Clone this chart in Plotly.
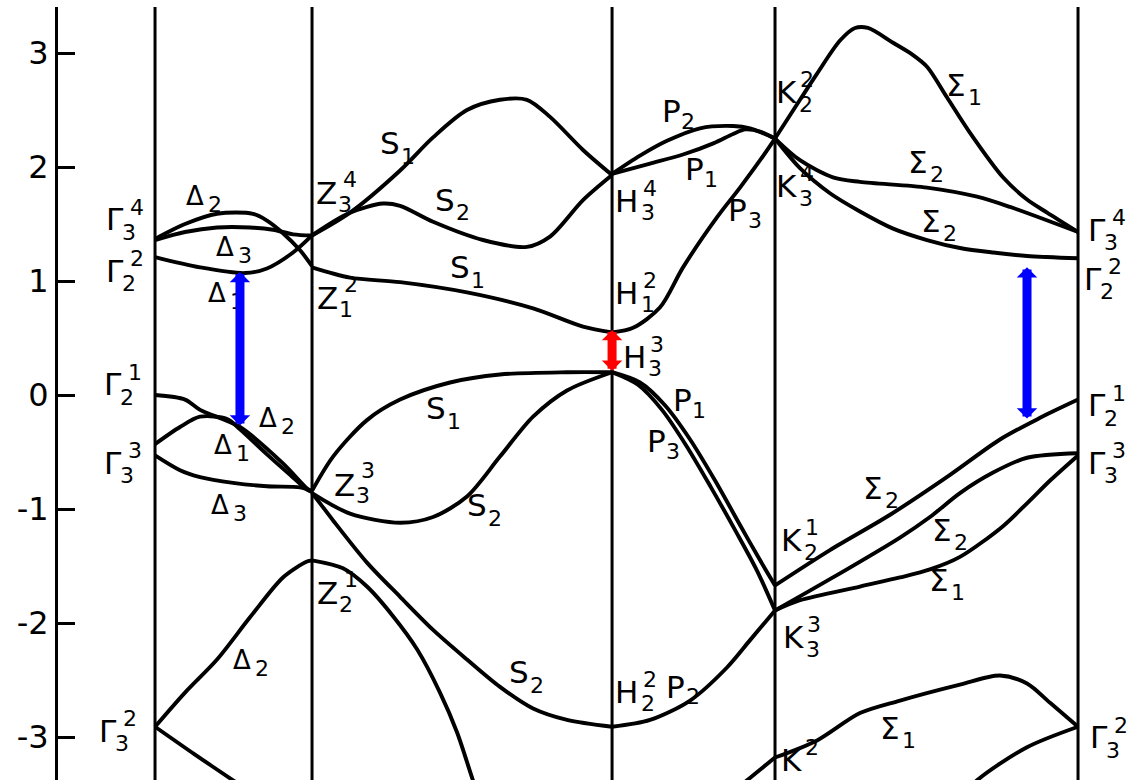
import plotly.graph_objects as go

FONT = "DejaVu Sans"

# High-symmetry points along the k-path (path length, arbitrary units)
NODE_NAMES = ["Γ", "Z", "H", "K", "Γ"]
NODE_K = [0.0, 1.0, 2.911, 3.949, 5.879]

# Energy axis (eV)
TICK_VALS = [-3, -2, -1, 0, 1, 2, 3]
TICK_TEXT = ["-3", "-2", "-1", "0", "1", "2", "3"]

# ---- Γ -> Z  (Δ line) ----
GZ_D2_UP_K = [0.0, 0.191, 0.395, 0.624, 0.713, 0.815, 0.924, 1.0]
GZ_D2_UP_E = [1.37, 1.50, 1.59, 1.59, 1.53, 1.42, 1.27, 1.13]
GZ_D3_UP_K = [0.0, 0.191, 0.395, 0.605, 0.752, 0.879, 1.0]
GZ_D3_UP_E = [1.36, 1.43, 1.47, 1.47, 1.45, 1.41, 1.40]
GZ_D1_UP_K = [0.0, 0.287, 0.573, 0.713, 0.879, 1.0]
GZ_D1_UP_E = [1.21, 1.12, 1.07, 1.11, 1.25, 1.40]
GZ_D2_VB_K = [0.0, 0.191, 0.287, 0.541, 0.815, 0.968, 1.0]
GZ_D2_VB_E = [0.0, -0.04, -0.13, -0.28, -0.60, -0.82, -0.85]
GZ_D1_VB_K = [0.0, 0.159, 0.287, 0.459, 0.541, 0.713, 0.860, 0.968, 1.0]
GZ_D1_VB_E = [-0.43, -0.28, -0.19, -0.21, -0.30, -0.52, -0.70, -0.83, -0.85]
GZ_D3_VB_K = [0.0, 0.159, 0.287, 0.497, 0.713, 0.924, 1.0]
GZ_D3_VB_E = [-0.53, -0.66, -0.72, -0.77, -0.80, -0.81, -0.84]
GZ_D2_LO_K = [0.0, 0.191, 0.395, 0.605, 0.815, 0.968, 1.0]
GZ_D2_LO_E = [-2.91, -2.61, -2.32, -1.95, -1.60, -1.46, -1.45]
GZ_G32_K = [0.0, 0.25, 0.497, 0.67]
GZ_G32_E = [-2.91, -3.15, -3.38, -3.54]

# ---- Z -> H  (S line) ----
ZH_S1_UP_K = [1.0, 1.242, 1.561, 1.771, 1.987, 2.197, 2.369, 2.516, 2.726, 2.911]
ZH_S1_UP_E = [1.40, 1.60, 1.97, 2.26, 2.50, 2.59, 2.59, 2.44, 2.15, 1.93]
ZH_S2_UP_K = [1.0, 1.242, 1.452, 1.561, 1.771, 2.089, 2.369, 2.516, 2.726, 2.911]
ZH_S2_UP_E = [1.40, 1.60, 1.68, 1.66, 1.52, 1.36, 1.30, 1.39, 1.71, 1.93]
ZH_S1_MID_K = [1.0, 1.242, 1.561, 1.987, 2.408, 2.726, 2.911]
ZH_S1_MID_E = [1.12, 1.03, 0.99, 0.90, 0.76, 0.60, 0.55]
ZH_S1_VB_K = [1.0, 1.134, 1.350, 1.561, 1.879, 2.197, 2.624, 2.911]
ZH_S1_VB_E = [-0.84, -0.54, -0.22, -0.04, 0.11, 0.18, 0.20, 0.20]
ZH_S2_VB_K = [1.0, 1.242, 1.561, 1.771, 1.987, 2.197, 2.408, 2.624, 2.911]
ZH_S2_VB_E = [-0.86, -1.04, -1.12, -1.07, -0.89, -0.54, -0.19, 0.04, 0.20]
ZH_Z21_K = [1.0, 1.197, 1.350, 1.516, 1.669, 1.815, 1.924, 2.025, 2.089]
ZH_Z21_E = [-1.45, -1.52, -1.68, -1.94, -2.23, -2.61, -2.96, -3.38, -3.63]
ZH_S2_LO_K = [1.0, 1.051, 1.134, 1.350, 1.561, 1.771, 1.987, 2.197, 2.408, 2.624, 2.911]
ZH_S2_LO_E = [-0.86, -0.95, -1.10, -1.47, -1.77, -2.06, -2.32, -2.56, -2.75, -2.85, -2.91]

# ---- H -> K  (P line) ----
HK_P2_UP_K = [2.911, 3.089, 3.261, 3.471, 3.682, 3.790, 3.949]
HK_P2_UP_E = [1.94, 2.10, 2.23, 2.34, 2.36, 2.34, 2.25]
HK_P1_UP_K = [2.911, 3.153, 3.363, 3.560, 3.682, 3.760, 3.854, 3.949]
HK_P1_UP_E = [1.94, 2.03, 2.11, 2.21, 2.29, 2.33, 2.31, 2.25]
HK_P3_UP_K = [2.911, 3.045, 3.217, 3.363, 3.580, 3.726, 3.854, 3.949]
HK_P3_UP_E = [0.55, 0.59, 0.77, 1.12, 1.56, 1.82, 2.06, 2.25]
HK_P1_VB_K = [2.911, 3.089, 3.248, 3.408, 3.567, 3.726, 3.854, 3.949]
HK_P1_VB_E = [0.20, 0.11, -0.09, -0.39, -0.75, -1.14, -1.45, -1.67]
HK_P3_VB_K = [2.911, 3.076, 3.229, 3.382, 3.541, 3.701, 3.834, 3.949]
HK_P3_VB_E = [0.20, 0.09, -0.13, -0.44, -0.81, -1.20, -1.54, -1.89]
HK_P2_LO_K = [2.911, 3.153, 3.408, 3.643, 3.790, 3.949]
HK_P2_LO_E = [-2.91, -2.85, -2.68, -2.39, -2.15, -1.89]
HK_K12_K = [3.694, 3.771, 3.949]
HK_K12_E = [-3.47, -3.38, -3.18]

# ---- K -> Γ  (Σ line) ----
KG_S1_TOP_K = [3.949, 4.108, 4.217, 4.363, 4.459, 4.541, 4.701, 4.820, 4.917,
               5.045, 5.191, 5.401, 5.550, 5.682, 5.879]
KG_S1_TOP_E = [2.25, 2.59, 2.82, 3.11, 3.22, 3.22, 3.09, 2.99, 2.88,
               2.61, 2.30, 1.91, 1.72, 1.60, 1.43]
KG_S2_A_K = [3.949, 4.108, 4.318, 4.490, 4.917, 5.236, 5.446, 5.879]
KG_S2_A_E = [2.25, 2.06, 1.91, 1.87, 1.82, 1.74, 1.65, 1.43]
KG_S2_B_K = [3.949, 4.108, 4.299, 4.490, 4.701, 4.917, 5.127, 5.338, 5.554, 5.879]
KG_S2_B_E = [2.25, 1.99, 1.77, 1.61, 1.46, 1.36, 1.29, 1.25, 1.22, 1.20]
KG_S2_VB_K = [3.949, 4.299, 4.682, 5.064, 5.382, 5.637, 5.879]
KG_S2_VB_E = [-1.67, -1.36, -1.05, -0.70, -0.39, -0.20, -0.04]
KG_S2_MID_K = [3.949, 4.318, 4.745, 4.936, 5.127, 5.338, 5.554, 5.879]
KG_S2_MID_E = [-1.89, -1.60, -1.25, -1.07, -0.86, -0.68, -0.55, -0.51]
KG_S1_VB_K = [3.949, 4.108, 4.490, 4.745, 4.936, 5.127, 5.401, 5.554, 5.701, 5.879]
KG_S1_VB_E = [-1.89, -1.80, -1.68, -1.60, -1.53, -1.42, -1.15, -0.95, -0.75, -0.53]
KG_S1_LO_K = [3.949, 4.217, 4.490, 4.745, 5.127, 5.382, 5.554, 5.701, 5.879]
KG_S1_LO_E = [-3.18, -3.03, -2.79, -2.68, -2.54, -2.46, -2.53, -2.70, -2.91]
KG_G32_K = [5.127, 5.236, 5.554, 5.879]
KG_G32_E = [-3.55, -3.38, -3.09, -2.91]

BANDS = [
    (GZ_D2_UP_K, GZ_D2_UP_E), (GZ_D3_UP_K, GZ_D3_UP_E), (GZ_D1_UP_K, GZ_D1_UP_E),
    (GZ_D2_VB_K, GZ_D2_VB_E), (GZ_D1_VB_K, GZ_D1_VB_E), (GZ_D3_VB_K, GZ_D3_VB_E),
    (GZ_D2_LO_K, GZ_D2_LO_E), (GZ_G32_K, GZ_G32_E),
    (ZH_S1_UP_K, ZH_S1_UP_E), (ZH_S2_UP_K, ZH_S2_UP_E), (ZH_S1_MID_K, ZH_S1_MID_E),
    (ZH_S1_VB_K, ZH_S1_VB_E), (ZH_S2_VB_K, ZH_S2_VB_E), (ZH_Z21_K, ZH_Z21_E),
    (ZH_S2_LO_K, ZH_S2_LO_E),
    (HK_P2_UP_K, HK_P2_UP_E), (HK_P1_UP_K, HK_P1_UP_E), (HK_P3_UP_K, HK_P3_UP_E),
    (HK_P1_VB_K, HK_P1_VB_E), (HK_P3_VB_K, HK_P3_VB_E), (HK_P2_LO_K, HK_P2_LO_E),
    (HK_K12_K, HK_K12_E),
    (KG_S1_TOP_K, KG_S1_TOP_E), (KG_S2_A_K, KG_S2_A_E), (KG_S2_B_K, KG_S2_B_E),
    (KG_S2_VB_K, KG_S2_VB_E), (KG_S2_MID_K, KG_S2_MID_E), (KG_S1_VB_K, KG_S1_VB_E),
    (KG_S1_LO_K, KG_S1_LO_E), (KG_G32_K, KG_G32_E),
]

# Band gaps marked with double-headed arrows: position, lower and upper energy
GAP_K = [0.541, 2.911, 5.554]
GAP_LO = [-0.28, 0.20, -0.22]
GAP_HI = [1.08, 0.57, 1.12]
GAP_COLORS = ["#0000ff", "#ff0000", "#0000ff"]

# State labels: (k, E, symbol, subscript, superscript)
LABELS = [
    (-0.255, 1.540, "Γ", "3", "4"), (-0.255, 1.090, "Γ", "2", "2"),
    (-0.268, 0.096, "Γ", "2", "1"), (-0.268, -0.596, "Γ", "3", "3"),
    (-0.299, -2.947, "Γ", "3", "2"),
    (0.255, 1.746, "Δ", "2", ""), (0.446, 1.298, "Δ", "3", ""),
    (0.395, 0.895, "Δ", "1", ""), (0.720, -0.202, "Δ", "2", ""),
    (0.433, -0.439, "Δ", "1", ""), (0.414, -0.965, "Δ", "3", ""),
    (0.554, -2.325, "Δ", "2", ""),
    (1.090, 1.772, "Z", "3", "4"), (1.096, 0.851, "Z", "1", "2"),
    (1.204, -0.789, "Z", "3", "3"), (1.096, -1.737, "Z", "2", "1"),
    (1.497, 2.211, "S", "1", ""), (1.847, 1.711, "S", "2", ""),
    (1.943, 1.123, "S", "1", ""), (1.790, -0.114, "S", "1", ""),
    (2.051, -0.965, "S", "2", ""), (2.318, -2.430, "S", "2", ""),
    (3.006, 1.702, "H", "3", "4"), (3.006, 0.895, "H", "1", "2"),
    (3.051, 0.333, "H", "3", "3"), (3.006, -2.605, "H", "2", "2"),
    (3.287, 2.491, "P", "2", ""), (3.433, 1.982, "P", "1", ""),
    (3.713, 1.623, "P", "3", ""), (3.357, -0.044, "P", "1", ""),
    (3.191, -0.404, "P", "3", ""), (3.318, -2.561, "P", "2", ""),
    (4.019, 2.658, "K", "2", "2"), (4.019, 1.833, "K", "3", "4"),
    (4.051, -1.272, "K", "2", "1"), (4.064, -2.123, "K", "3", "3"),
    (4.051, -3.205, "K", "", "2"),
    (5.102, 2.719, "Σ", "1", ""), (4.860, 2.044, "Σ", "2", ""),
    (4.943, 1.526, "Σ", "2", ""), (4.573, -0.816, "Σ", "2", ""),
    (5.013, -1.184, "Σ", "2", ""), (4.994, -1.623, "Σ", "1", ""),
    (4.682, -2.921, "Σ", "1", ""),
    (6.000, 1.450, "Γ", "3", "4"), (5.975, 1.020, "Γ", "2", "2"),
    (6.000, -0.088, "Γ", "2", "1"), (6.000, -0.596, "Γ", "3", "3"),
    (6.013, -3.000, "Γ", "3", "2"),
]

# Pixel offsets of subscript / superscript relative to the symbol centre
SUB_OFFSET = {"Γ": (14, -13), "Δ": (20, -8), "S": (18, -13), "Z": (19, -11),
              "H": (21, -11), "K": (20, -12), "P": (17, -10), "Σ": (19, -12)}
SUP_OFFSET = {"Γ": (22, 12), "Z": (24, 14), "H": (23, 13), "K": (21, 13)}
SYMBOL_SIZE = {"Δ": 26}

fig = go.Figure()

for ks, es in BANDS:
    fig.add_trace(go.Scatter(
        x=ks, y=es, mode="lines",
        line=dict(color="black", width=3.9, shape="spline", smoothing=0.85),
        hoverinfo="skip", showlegend=False,
    ))

# Vertical lines through the high-symmetry points
for k in NODE_K:
    fig.add_shape(type="line", xref="x", yref="paper", x0=k, x1=k, y0=0, y1=1,
                  line=dict(color="black", width=3), layer="below")

for k, e, sym, sub, sup in LABELS:
    fig.add_annotation(x=k, y=e, text=sym, showarrow=False,
                       xanchor="center", yanchor="middle",
                       font=dict(family=FONT, size=SYMBOL_SIZE.get(sym, 31), color="black"))
    if sub:
        dx, dy = SUB_OFFSET[sym]
        fig.add_annotation(x=k, y=e, text=sub, showarrow=False, xshift=dx, yshift=dy,
                           xanchor="center", yanchor="middle",
                           font=dict(family=FONT, size=22, color="black"))
    if sup:
        dx, dy = SUP_OFFSET[sym]
        fig.add_annotation(x=k, y=e, text=sup, showarrow=False, xshift=dx, yshift=dy,
                           xanchor="center", yanchor="middle",
                           font=dict(family=FONT, size=22, color="black"))

for k, lo, hi, col in zip(GAP_K, GAP_LO, GAP_HI, GAP_COLORS):
    fig.add_annotation(x=k, y=hi, ax=k, ay=lo, xref="x", yref="y", axref="x", ayref="y",
                       text="", showarrow=True, arrowside="end+start",
                       arrowhead=1, arrowsize=0.38, startarrowhead=1, startarrowsize=0.38,
                       arrowwidth=9, arrowcolor=col, standoff=0, startstandoff=0)

fig.update_layout(
    width=1130, height=780,
    margin=dict(l=58, r=0, t=7, b=0),
    paper_bgcolor="white", plot_bgcolor="white",
    showlegend=False,
    xaxis=dict(range=[-0.618, 6.210], visible=False, fixedrange=True),
    yaxis=dict(
        range=[-3.377, 3.404], tickvals=TICK_VALS, ticktext=TICK_TEXT,
        ticks="inside", ticklen=17, tickwidth=3, tickcolor="black",
        showline=True, linewidth=3, linecolor="black",
        showgrid=False, zeroline=False, automargin=False,
        ticklabelstandoff=0,
        tickfont=dict(family=FONT, size=32, color="black"),
    ),
)

fig.write_html("out.html")
